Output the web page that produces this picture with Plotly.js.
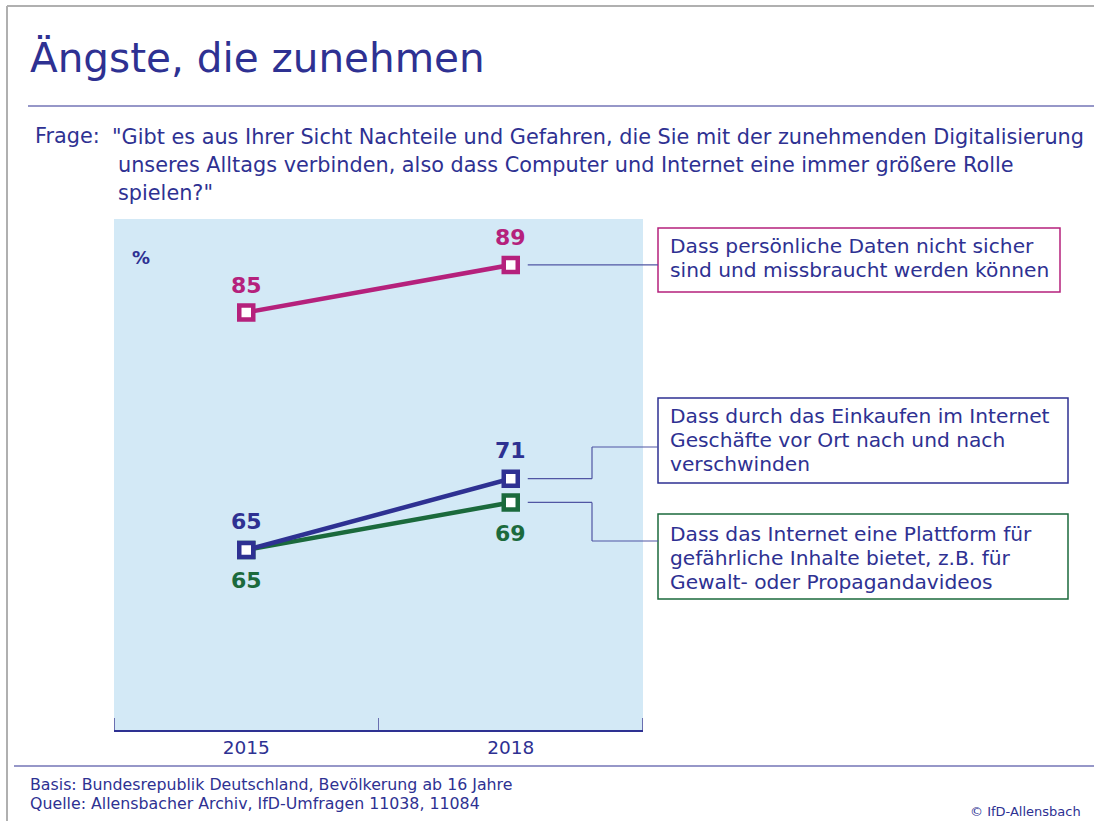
<!DOCTYPE html>
<html>
<head>
<meta charset="utf-8">
<script src="https://cdn.plot.ly/plotly-3.0.1.min.js"></script>
<style>
  html, body { margin: 0; padding: 0; background: #ffffff; }
  #chart { width: 1094px; height: 821px; }
</style>
</head>
<body>
<div id="chart"></div>
<script>
// ---- data ----
const years = ['2015', '2018'];
const dataMisuse = [85, 89];
const shopsVanish = [65, 71];
const harmfulContent = [65, 69];
const seriesNames = [
  ['Dass persönliche Daten nicht sicher', 'sind und missbraucht werden können'],
  ['Dass durch das Einkaufen im Internet', 'Geschäfte vor Ort nach und nach', 'verschwinden'],
  ['Dass das Internet eine Plattform für', 'gefährliche Inhalte bietet, z.B. für', 'Gewalt- oder Propagandavideos']
];
const titleText = 'Ängste, die zunehmen';
const questionLabel = 'Frage:';
const questionLines = [
  '"Gibt es aus Ihrer Sicht Nachteile und Gefahren, die Sie mit der zunehmenden Digitalisierung',
  'unseres Alltags verbinden, also dass Computer und Internet eine immer größere Rolle',
  'spielen?"'
];
const footerLines = [
  'Basis: Bundesrepublik Deutschland, Bevölkerung ab 16 Jahre',
  'Quelle: Allensbacher Archiv, IfD-Umfragen 11038, 11084'
];
const copyright = '© IfD-Allensbach';

// ---- styles ----
const NAVY = '#2e3192';
const MAGENTA = '#b5217c';
const GREEN = '#1b6a3c';
const FONT = 'DejaVu Sans, sans-serif';
const W = 1094, H = 821;
const L = 114, R = 643, T = 219, B = 730;
const yRange = [49.84, 92.87];

const xp = px => (px - L) / (R - L);
const yp = py => (B - py) / (B - T);
const vy = v => B - (v - yRange[0]) / (yRange[1] - yRange[0]) * (B - T);
const cx = i => L + (i + 0.5) / years.length * (R - L);

function trace(vals, color) {
  return {
    x: years, y: vals, type: 'scatter', mode: 'lines+markers',
    line: { color: color, width: 4.5 },
    marker: { symbol: 'square', size: 14, color: '#ffffff', line: { color: color, width: 4.5 } },
    cliponaxis: false,
    hoverinfo: 'skip', showlegend: false
  };
}

const traces = [
  trace(dataMisuse, MAGENTA),
  trace(harmfulContent, GREEN),
  trace(shopsVanish, NAVY)
];

const shapes = [];
const annotations = [];

function paperLine(x0, y0, x1, y1, color, width) {
  shapes.push({ type: 'line', xref: 'paper', yref: 'paper',
    x0: xp(x0), y0: yp(y0), x1: xp(x1), y1: yp(y1),
    line: { color: color, width: width } });
}
function text(str, x, y, size, color, opts) {
  annotations.push(Object.assign({
    text: str, xref: 'paper', yref: 'paper', x: xp(x), y: yp(y),
    xanchor: 'left', yanchor: 'middle', showarrow: false, align: 'left',
    font: { family: FONT, size: size, color: color }
  }, opts || {}));
}
function valueLabels(vals, color, shifts) {
  vals.forEach((v, i) => {
    annotations.push({
      text: '<b>' + v + '</b>', xref: 'x', yref: 'y', x: i, y: v,
      yshift: shifts[i], xanchor: 'center', yanchor: 'middle', showarrow: false,
      font: { family: FONT, size: 22, color: color }
    });
  });
}

// frame
paperLine(7, 6, W, 6, '#b0b0b0', 2);
paperLine(7, 6, 7, H, '#b0b0b0', 2);
// separators
paperLine(28, 106, W, 106, NAVY, 1.2);
paperLine(14, 766, W, 766, NAVY, 1.2);
// edge ticks of the x axis
paperLine(L + 0.5, B, L + 0.5, B - 12, '#6a6fb0', 1);
paperLine(R - 0.5, B, R - 0.5, B - 12, '#6a6fb0', 1);

// legend boxes
const boxes = [
  { x0: 658, x1: 1060, y0: 228, y1: 292, color: MAGENTA, ty: 246 },
  { x0: 658, x1: 1068, y0: 398, y1: 483, color: NAVY, ty: 416 },
  { x0: 658, x1: 1068, y0: 514, y1: 599, color: GREEN, ty: 534 }
];
boxes.forEach((b, i) => {
  shapes.push({ type: 'rect', xref: 'paper', yref: 'paper',
    x0: xp(b.x0), x1: xp(b.x1), y0: yp(b.y0), y1: yp(b.y1),
    line: { color: b.color, width: 1.5 }, fillcolor: 'rgba(0,0,0,0)' });
  seriesNames[i].forEach((ln, j) => text(ln, 668, b.ty + j * 24, 20.2, NAVY));
});

// connectors
const CONN = '#5056a3';
const sx = cx(1) + 17;
paperLine(sx, vy(dataMisuse[1]), 658, vy(dataMisuse[1]), CONN, 1.2);
paperLine(sx, vy(shopsVanish[1]), 592, vy(shopsVanish[1]), CONN, 1.2);
paperLine(592, vy(shopsVanish[1]), 592, 447, CONN, 1.2);
paperLine(592, 447, 658, 447, CONN, 1.2);
paperLine(sx, vy(harmfulContent[1]), 592, vy(harmfulContent[1]), CONN, 1.2);
paperLine(592, vy(harmfulContent[1]), 592, 541, CONN, 1.2);
paperLine(592, 541, 658, 541, CONN, 1.2);

// value labels
valueLabels(dataMisuse, MAGENTA, [27, 27]);
valueLabels(shopsVanish, NAVY, [28, 28]);
valueLabels(harmfulContent, GREEN, [-31, -31]);

// question
text(questionLabel, 33, 136, 20.8, NAVY);
text(questionLines[0], 110, 137, 20.8, NAVY);
text(questionLines[1], 116, 165, 20.8, NAVY);
text(questionLines[2], 116, 193, 20.8, NAVY);

// percent sign
text('<b>%</b>', 130, 257, 18, NAVY);

// footer
text(footerLines[0], 28, 784, 15.8, NAVY);
text(footerLines[1], 28, 803, 15.8, NAVY);
text(copyright, 1083, 811, 13, NAVY, { xanchor: 'right' });

const layout = {
  width: W, height: H,
  margin: { l: L, r: W - R, t: T, b: H - B, pad: 0 },
  paper_bgcolor: '#ffffff',
  plot_bgcolor: '#d3e9f6',
  font: { family: FONT, color: NAVY },
  title: {
    text: titleText, xref: 'container', yref: 'container',
    x: 30 / W, xanchor: 'left', y: 1 - 58 / H, yanchor: 'middle',
    font: { family: FONT, size: 40.5, color: NAVY }
  },
  xaxis: {
    type: 'category', range: [-0.5, 1.5], fixedrange: true,
    showgrid: false, zeroline: false,
    showline: true, linecolor: NAVY, linewidth: 1.5,
    ticks: 'inside', tickson: 'boundaries', ticklen: 12, tickcolor: '#6a6fb0', tickwidth: 1,
    tickfont: { family: FONT, size: 18.5, color: NAVY }
  },
  yaxis: {
    range: yRange, fixedrange: true, visible: false,
    showgrid: false, zeroline: false
  },
  shapes: shapes,
  annotations: annotations,
  showlegend: false
};

Plotly.newPlot('chart', traces, layout, { displayModeBar: false, staticPlot: true });
</script>
</body>
</html>
